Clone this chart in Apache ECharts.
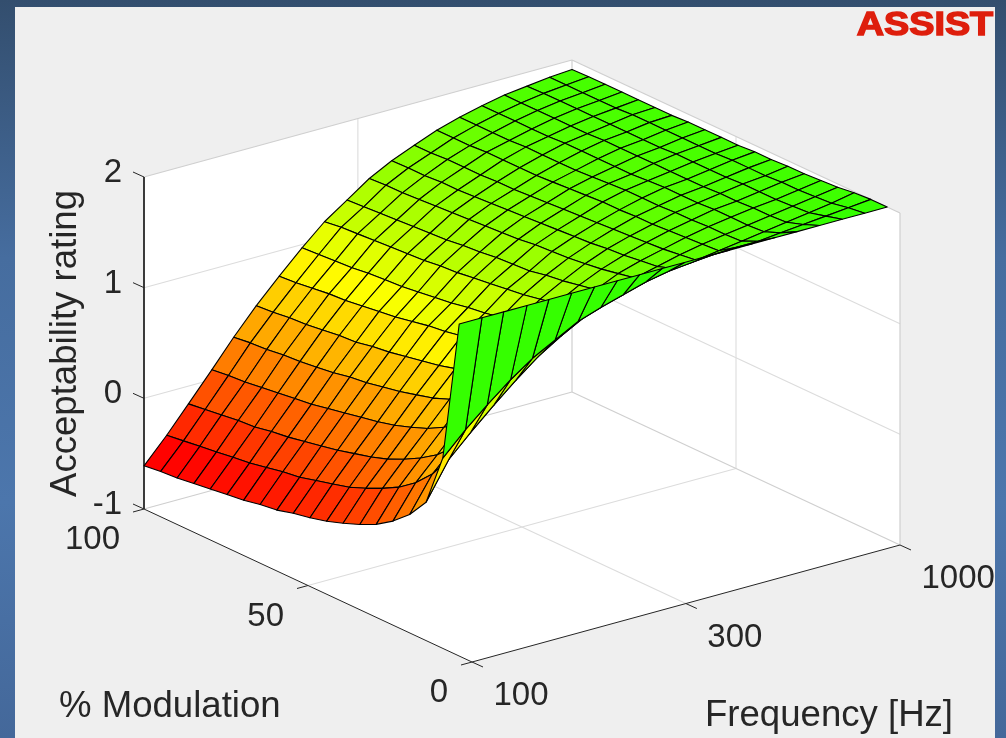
<!DOCTYPE html>
<html><head><meta charset="utf-8">
<style>html,body{margin:0;padding:0;width:1006px;height:738px;overflow:hidden}#c{width:1006px;height:738px}</style>
<script src="https://cdn.jsdelivr.net/npm/echarts@6/dist/echarts.min.js"></script>
</head><body><div id="c"></div>
<script>
const freqs=[100,113,127,144,162,183,207,234,264,298,336,379,428,483,546,616,695,785,886,1000];
const mods=[100,94.9,89.9,84.8,79.8,74.7,69.6,64.6,59.5,54.5,49.4,44.3,39.3,34.2,29.2,24.1,19.0,14.0,8.9,3.9];
const ratings=[
[-.61,-.39,-.16,.09,.33,.56,.77,.97,1.15,1.29,1.43,1.535,1.62,1.70,1.76,1.81,1.85,1.875,1.90,1.915],
[-.59,-.37,-.14,.11,.35,.57,.78,.98,1.17,1.30,1.44,1.54,1.62,1.70,1.76,1.81,1.85,1.88,1.90,1.92],
[-.58,-.35,-.12,.12,.36,.59,.80,.99,1.18,1.31,1.44,1.54,1.63,1.70,1.76,1.81,1.85,1.88,1.90,1.92],
[-.56,-.33,-.10,.14,.38,.60,.82,1.00,1.19,1.32,1.45,1.55,1.63,1.71,1.76,1.81,1.85,1.88,1.90,1.92],
[-.54,-.31,-.09,.16,.39,.62,.83,1.02,1.20,1.33,1.46,1.55,1.63,1.71,1.77,1.81,1.85,1.88,1.90,1.92],
[-.52,-.29,-.06,.18,.41,.64,.85,1.03,1.21,1.34,1.47,1.56,1.64,1.71,1.77,1.82,1.85,1.88,1.91,1.92],
[-.50,-.26,-.04,.20,.43,.65,.87,1.04,1.22,1.35,1.48,1.57,1.64,1.71,1.77,1.82,1.86,1.88,1.91,1.92],
[-.47,-.23,-.01,.23,.46,.68,.89,1.06,1.24,1.37,1.49,1.58,1.65,1.72,1.77,1.82,1.86,1.88,1.91,1.93],
[-.45,-.21,.02,.26,.48,.70,.92,1.08,1.25,1.38,1.50,1.59,1.66,1.73,1.78,1.82,1.86,1.88,1.91,1.93],
[-.41,-.17,.05,.29,.51,.73,.95,1.10,1.27,1.40,1.51,1.60,1.67,1.74,1.79,1.82,1.86,1.89,1.91,1.93],
[-.38,-.13,.09,.32,.54,.76,.97,1.13,1.29,1.41,1.53,1.61,1.68,1.75,1.80,1.83,1.86,1.89,1.91,1.93],
[-.34,-.09,.13,.36,.58,.79,1.00,1.15,1.31,1.42,1.54,1.62,1.69,1.75,1.80,1.84,1.86,1.89,1.92,1.94],
[-.29,-.03,.18,.41,.62,.83,1.03,1.18,1.33,1.45,1.55,1.63,1.70,1.76,1.80,1.84,1.86,1.89,1.92,1.94],
[-.23,.04,.25,.47,.68,.88,1.07,1.22,1.36,1.47,1.57,1.65,1.71,1.76,1.81,1.84,1.87,1.90,1.92,1.95],
[-.16,.12,.33,.55,.75,.94,1.13,1.26,1.39,1.50,1.59,1.66,1.72,1.77,1.81,1.85,1.87,1.90,1.93,1.95],
[-.06,.23,.43,.65,.84,1.02,1.19,1.32,1.44,1.53,1.62,1.68,1.73,1.78,1.82,1.85,1.88,1.90,1.93,1.96],
[.07,.38,.57,.78,.96,1.13,1.29,1.40,1.50,1.58,1.65,1.70,1.75,1.79,1.82,1.85,1.88,1.91,1.94,1.97],
[.25,.58,.77,.96,1.13,1.29,1.42,1.53,1.60,1.66,1.71,1.75,1.77,1.80,1.83,1.86,1.89,1.92,1.95,1.99],
[.72,.92,1.09,1.26,1.40,1.51,1.62,1.69,1.75,1.81,1.85,1.87,1.89,1.90,1.90,1.92,1.94,1.96,1.98,2.00],
[2,2,2,2,2,2,2,2,2,2,2,2,2,2,2,2,2,2,2,2]];
const freqTicks=[100,316,1000], freqTickLabels=['100','300','1000'];
const modTicks=[0,50,100], modTickLabels=['0','50','100'];
const ratingTicks=[-1,0,1,2], ratingTickLabels=['-1','0','1','2'];
const fMin=100,fMax=1000,mMin=0,mMax=100,zMin=-1,zMax=2;

// orthographic view of the axes box on the picture plane
const view={ox:472,oy:662,ux:428,uy:-117,vx:-328,vy:-153,h:332};
function project(f,m,z){
  const u=Math.log10(f/fMin),v=m/mMax,h=(z-zMin)/(zMax-zMin);
  return [view.ox+view.ux*u+view.vx*v, view.oy+view.uy*u+view.vy*v-view.h*h];
}
function colour(z){
  const t=Math.min(1,Math.max(0,(z+0.6)/2.9));
  return t<.5?`rgb(255,${Math.round(510*t)},0)`:`rgb(${Math.round(510*(1-t))},255,0)`;
}
// walls and lines in axis units
const walls=[
 [[fMin,mMin,zMin],[fMax,mMin,zMin],[fMax,mMax,zMin],[fMin,mMax,zMin]],
 [[fMin,mMax,zMin],[fMax,mMax,zMin],[fMax,mMax,zMax],[fMin,mMax,zMax]],
 [[fMax,mMax,zMin],[fMax,mMin,zMin],[fMax,mMin,zMax],[fMax,mMax,zMax]]];
const gridLines=[];
[freqTicks[1]].forEach(f=>{gridLines.push([[f,mMin,zMin],[f,mMax,zMin]],[[f,mMax,zMin],[f,mMax,zMax]]);});
[modTicks[1]].forEach(m=>{gridLines.push([[fMin,m,zMin],[fMax,m,zMin]],[[fMax,m,zMin],[fMax,m,zMax]]);});
[0,1].forEach(z=>{gridLines.push([[fMin,mMax,z],[fMax,mMax,z]],[[fMax,mMax,z],[fMax,mMin,z]]);});
const boxLines=[
 [[fMin,mMax,zMin],[fMax,mMax,zMin]],[[fMax,mMax,zMin],[fMax,mMin,zMin]],
 [[fMin,mMax,zMax],[fMax,mMax,zMax]],[[fMax,mMax,zMax],[fMax,mMin,zMax]],
 [[fMax,mMax,zMin],[fMax,mMax,zMax]],[[fMax,mMin,zMin],[fMax,mMin,zMax]]];
const axisLines=[
 [[fMin,mMax,zMin],[fMin,mMax,zMax],1.8],
 [[fMin,mMax,zMin],[fMin,mMin,zMin],1],
 [[fMin,mMin,zMin],[fMax,mMin,zMin],1]];
const tickU=[-11,3], tickV=[-11,-5], tickF=[11,5];
const ticks=[];
ratingTicks.forEach(z=>ticks.push([[fMin,mMax,z],tickV]));
modTicks.forEach(m=>ticks.push([[fMin,m,zMin],tickU]));
freqTicks.forEach(f=>ticks.push([[f,mMin,zMin],tickF]));
const labels=[];
ratingTicks.forEach((z,k)=>labels.push([[fMin,mMax,z],ratingTickLabels[k],-22,-4,'right']));
modTicks.forEach((m,k)=>labels.push([[fMin,m,zMin],modTickLabels[k],-24,31,'right']));
freqTicks.forEach((f,k)=>labels.push([[f,mMin,zMin],freqTickLabels[k],21.5,34,'left']));
// surface facets far to near
const facets=[];
for(let j=0;j<mods.length-1;j++)for(let i=freqs.length-2;i>=0;i--)facets.push([i,j]);

function poly(api,pts,style){
  return {type:'polygon',shape:{points:pts.map(p=>api.coord(project(p[0],p[1],p[2])))},style};
}
function seg(api,a,b,stroke,w){
  const p=api.coord(project(...a)),q=api.coord(project(...b));
  return {type:'line',shape:{x1:p[0],y1:p[1],x2:q[0],y2:q[1]},style:{stroke,lineWidth:w,fill:null}};
}
const base={type:'custom',coordinateSystem:'cartesian2d',silent:true,animation:false,clip:false,progressive:0};
const TXT='#262626',FONT='"Liberation Sans",Arial,sans-serif';
const chart=echarts.init(document.getElementById('c'),null,{renderer:'canvas'});
chart.setOption({
 animation:false,
 backgroundColor:{type:'linear',x:0,y:0,x2:0,y2:1,colorStops:[{offset:0,color:'#334e6e'},{offset:.35,color:'#466d9f'},{offset:.68,color:'#4c76ac'},{offset:1,color:'#44689a'}]},
 grid:{left:0,right:0,top:0,bottom:0},
 xAxis:{type:'value',min:0,max:1006,show:false},
 yAxis:{type:'value',min:0,max:738,inverse:true,show:false},
 graphic:{elements:[
  {type:'rect',z:0,silent:true,shape:{x:15,y:7,width:980,height:731},style:{fill:'#efefef'}},
  {type:'text',z:10,silent:true,x:65.5,y:343.5,rotation:Math.PI/2,style:{text:'Acceptability rating',fill:TXT,font:'36.6px '+FONT,textAlign:'center',textVerticalAlign:'middle'}},
  {type:'text',z:10,silent:true,x:59,y:707,style:{text:'% Modulation',fill:TXT,font:'36.6px '+FONT,textAlign:'left',textVerticalAlign:'middle'}},
  {type:'text',z:10,silent:true,x:705,y:715.5,style:{text:'Frequency [Hz]',fill:TXT,font:'36.6px '+FONT,textAlign:'left',textVerticalAlign:'middle'}},
  {type:'text',z:10,silent:true,x:925,y:26,scaleX:1.11,style:{text:'ASSIST',fill:'#de1e0c',stroke:'#de1e0c',lineWidth:1.5,font:'bold 34px '+FONT,textAlign:'center',textVerticalAlign:'middle'}}
 ]},
 series:[
  {...base,z:1,data:walls.map((w,k)=>[k]),renderItem:(p,api)=>poly(api,walls[api.value(0)],{fill:'#fff',stroke:null})},
  {...base,z:2,data:gridLines.map((w,k)=>[k]),renderItem:(p,api)=>{const l=gridLines[api.value(0)];return seg(api,l[0],l[1],'#dcdcdc',1.1);}},
  {...base,z:3,data:boxLines.map((w,k)=>[k]),renderItem:(p,api)=>{const l=boxLines[api.value(0)];return seg(api,l[0],l[1],'#cfcfcf',1.2);}},
  {...base,z:4,data:axisLines.map((w,k)=>[k]),renderItem:(p,api)=>{const l=axisLines[api.value(0)];return seg(api,l[0],l[1],TXT,l[2]);}},
  {...base,z:5,data:ticks.map((w,k)=>[k]),renderItem:(p,api)=>{const t=ticks[api.value(0)];const a=api.coord(project(...t[0]));
     return {type:'line',shape:{x1:a[0],y1:a[1],x2:a[0]+t[1][0],y2:a[1]+t[1][1]},style:{stroke:TXT,lineWidth:1,fill:null}};}},
  {...base,z:6,data:facets,renderItem:(p,api)=>{
     const i=api.value(0),j=api.value(1);
     const c=(a,b)=>[freqs[a],mods[b],ratings[b][a]];
     return poly(api,[c(i,j),c(i+1,j),c(i+1,j+1),c(i,j+1)],{fill:colour(ratings[j+1][i]),stroke:'#000',lineWidth:1.1,lineJoin:'round'});}},
  {...base,z:7,data:labels.map((w,k)=>[k]),renderItem:(p,api)=>{const l=labels[api.value(0)];const a=api.coord(project(...l[0]));
     return {type:'text',x:a[0]+l[2],y:a[1]+l[3],style:{text:l[1],fill:TXT,font:'33px '+FONT,textAlign:l[4],textVerticalAlign:'middle'}};}}
 ]
});
</script></body></html>
